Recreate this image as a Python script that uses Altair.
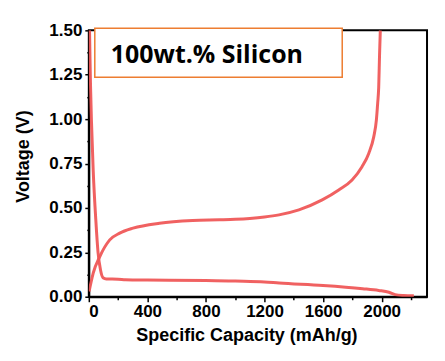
import altair as alt
import pandas as pd

# Discharge (lithiation) curve
dis_cap = [5, 8, 12, 18, 30, 48, 63, 80, 97, 120, 200, 250, 400, 800, 1000, 1200, 1300, 1600, 1870, 1980, 2050, 2093, 2150, 2220]
dis_v = [1.5, 1.35, 1.18, 0.99, 0.71, 0.43, 0.25, 0.15, 0.107, 0.1, 0.099, 0.096, 0.094, 0.092, 0.088, 0.083, 0.077, 0.063, 0.045, 0.035, 0.025, 0.012, 0.007, 0.005]

# Charge (delithiation) curve
chg_cap = [2, 30, 75, 143, 211, 302, 483, 710, 891, 1000, 1100, 1200, 1299, 1435, 1594, 1707, 1798, 1866, 1912, 1946, 1964, 1973, 1980, 1986, 1991]
chg_v = [0.03, 0.133, 0.226, 0.32, 0.358, 0.386, 0.414, 0.429, 0.433, 0.436, 0.441, 0.449, 0.461, 0.489, 0.545, 0.601, 0.657, 0.732, 0.807, 0.90, 0.994, 1.09, 1.18, 1.37, 1.5]

x_all_ticks = [0, 200, 400, 600, 800, 1000, 1200, 1400, 1600, 1800, 2000, 2200]
y_all_ticks = [0, 0.125, 0.25, 0.375, 0.5, 0.625, 0.75, 0.875, 1.0, 1.125, 1.25, 1.375, 1.5]

rows = []
for i, (c, v) in enumerate(zip(dis_cap, dis_v)):
    rows.append({"series": "discharge", "i": i, "cap": c, "v": v})
for i, (c, v) in enumerate(zip(chg_cap, chg_v)):
    rows.append({"series": "charge", "i": i, "cap": c, "v": v})
df = pd.DataFrame(rows)

LINE_COLOR = "#EF5858"
FONT = "Liberation Sans"

x_axis = alt.Axis(
    values=x_all_ticks,
    labelExpr="datum.value % 400 == 0 ? datum.label : ''",
    format="d",
    grid=False,
    domainColor="black",
    domainWidth=2,
    tickColor="black",
    tickWidth=1.5,
    tickSize={"condition": {"test": "datum.value % 400 != 0", "value": 3}, "value": 5},
    labelFont=FONT,
    labelFontSize=17,
    labelFontWeight="bold",
    labelColor="black",
    labelPadding=2,
    title="Specific Capacity (mAh/g)",
    titleFont=FONT,
    titleFontSize=18,
    titleFontWeight="bold",
    titleColor="black",
    titlePadding=7,
    titleX=158,
)

y_axis = alt.Axis(
    values=y_all_ticks,
    labelExpr="(datum.value * 4) % 1 == 0 ? format(datum.value, '.2f') : ''",
    grid=False,
    domainColor="black",
    domainWidth=2,
    tickColor="black",
    tickWidth=1.5,
    tickSize={"condition": {"test": "(datum.value * 4) % 1 != 0", "value": 2}, "value": 4},
    labelFont=FONT,
    labelFontSize=17,
    labelFontWeight="bold",
    labelColor="black",
    labelPadding=3,
    title="Voltage (V)",
    titleFont=FONT,
    titleFontSize=18,
    titleFontWeight="bold",
    titleColor="black",
    titlePadding=16,
    titleY=126,
)

lines = alt.Chart(df).mark_line(color=LINE_COLOR, strokeWidth=3, opacity=0.95, clip=True, interpolate="monotone").encode(
    x=alt.X("cap:Q", scale=alt.Scale(domain=[0, 2310], nice=False), axis=x_axis),
    y=alt.Y("v:Q", scale=alt.Scale(domain=[0, 1.5], nice=False), axis=y_axis),
    detail="series:N",
    order="i:Q",
)

label_df = pd.DataFrame({"label": ["100wt.% Silicon"]})

box = alt.Chart(label_df).mark_rect(
    fill="white", stroke="#ED7D31", strokeWidth=1.5
).encode(
    x=alt.value(6), x2=alt.value(254), y=alt.value(-2), y2=alt.value(47)
)

txt = alt.Chart(label_df).mark_text(
    font="Open Sans", fontSize=25, fontWeight="bold", color="black", align="left", baseline="alphabetic"
).encode(
    x=alt.value(22), y=alt.value(33), text="label:N"
)

chart = alt.layer(lines, box, txt).properties(
    width=339,
    height=267,
    autosize=alt.AutoSizeParams(type="none"),
    padding={"left": 81, "top": 22, "right": 10, "bottom": 50},
).configure_view(stroke="black", strokeWidth=2)

chart.save("out.html", embed_options={"renderer": "svg", "actions": False})
